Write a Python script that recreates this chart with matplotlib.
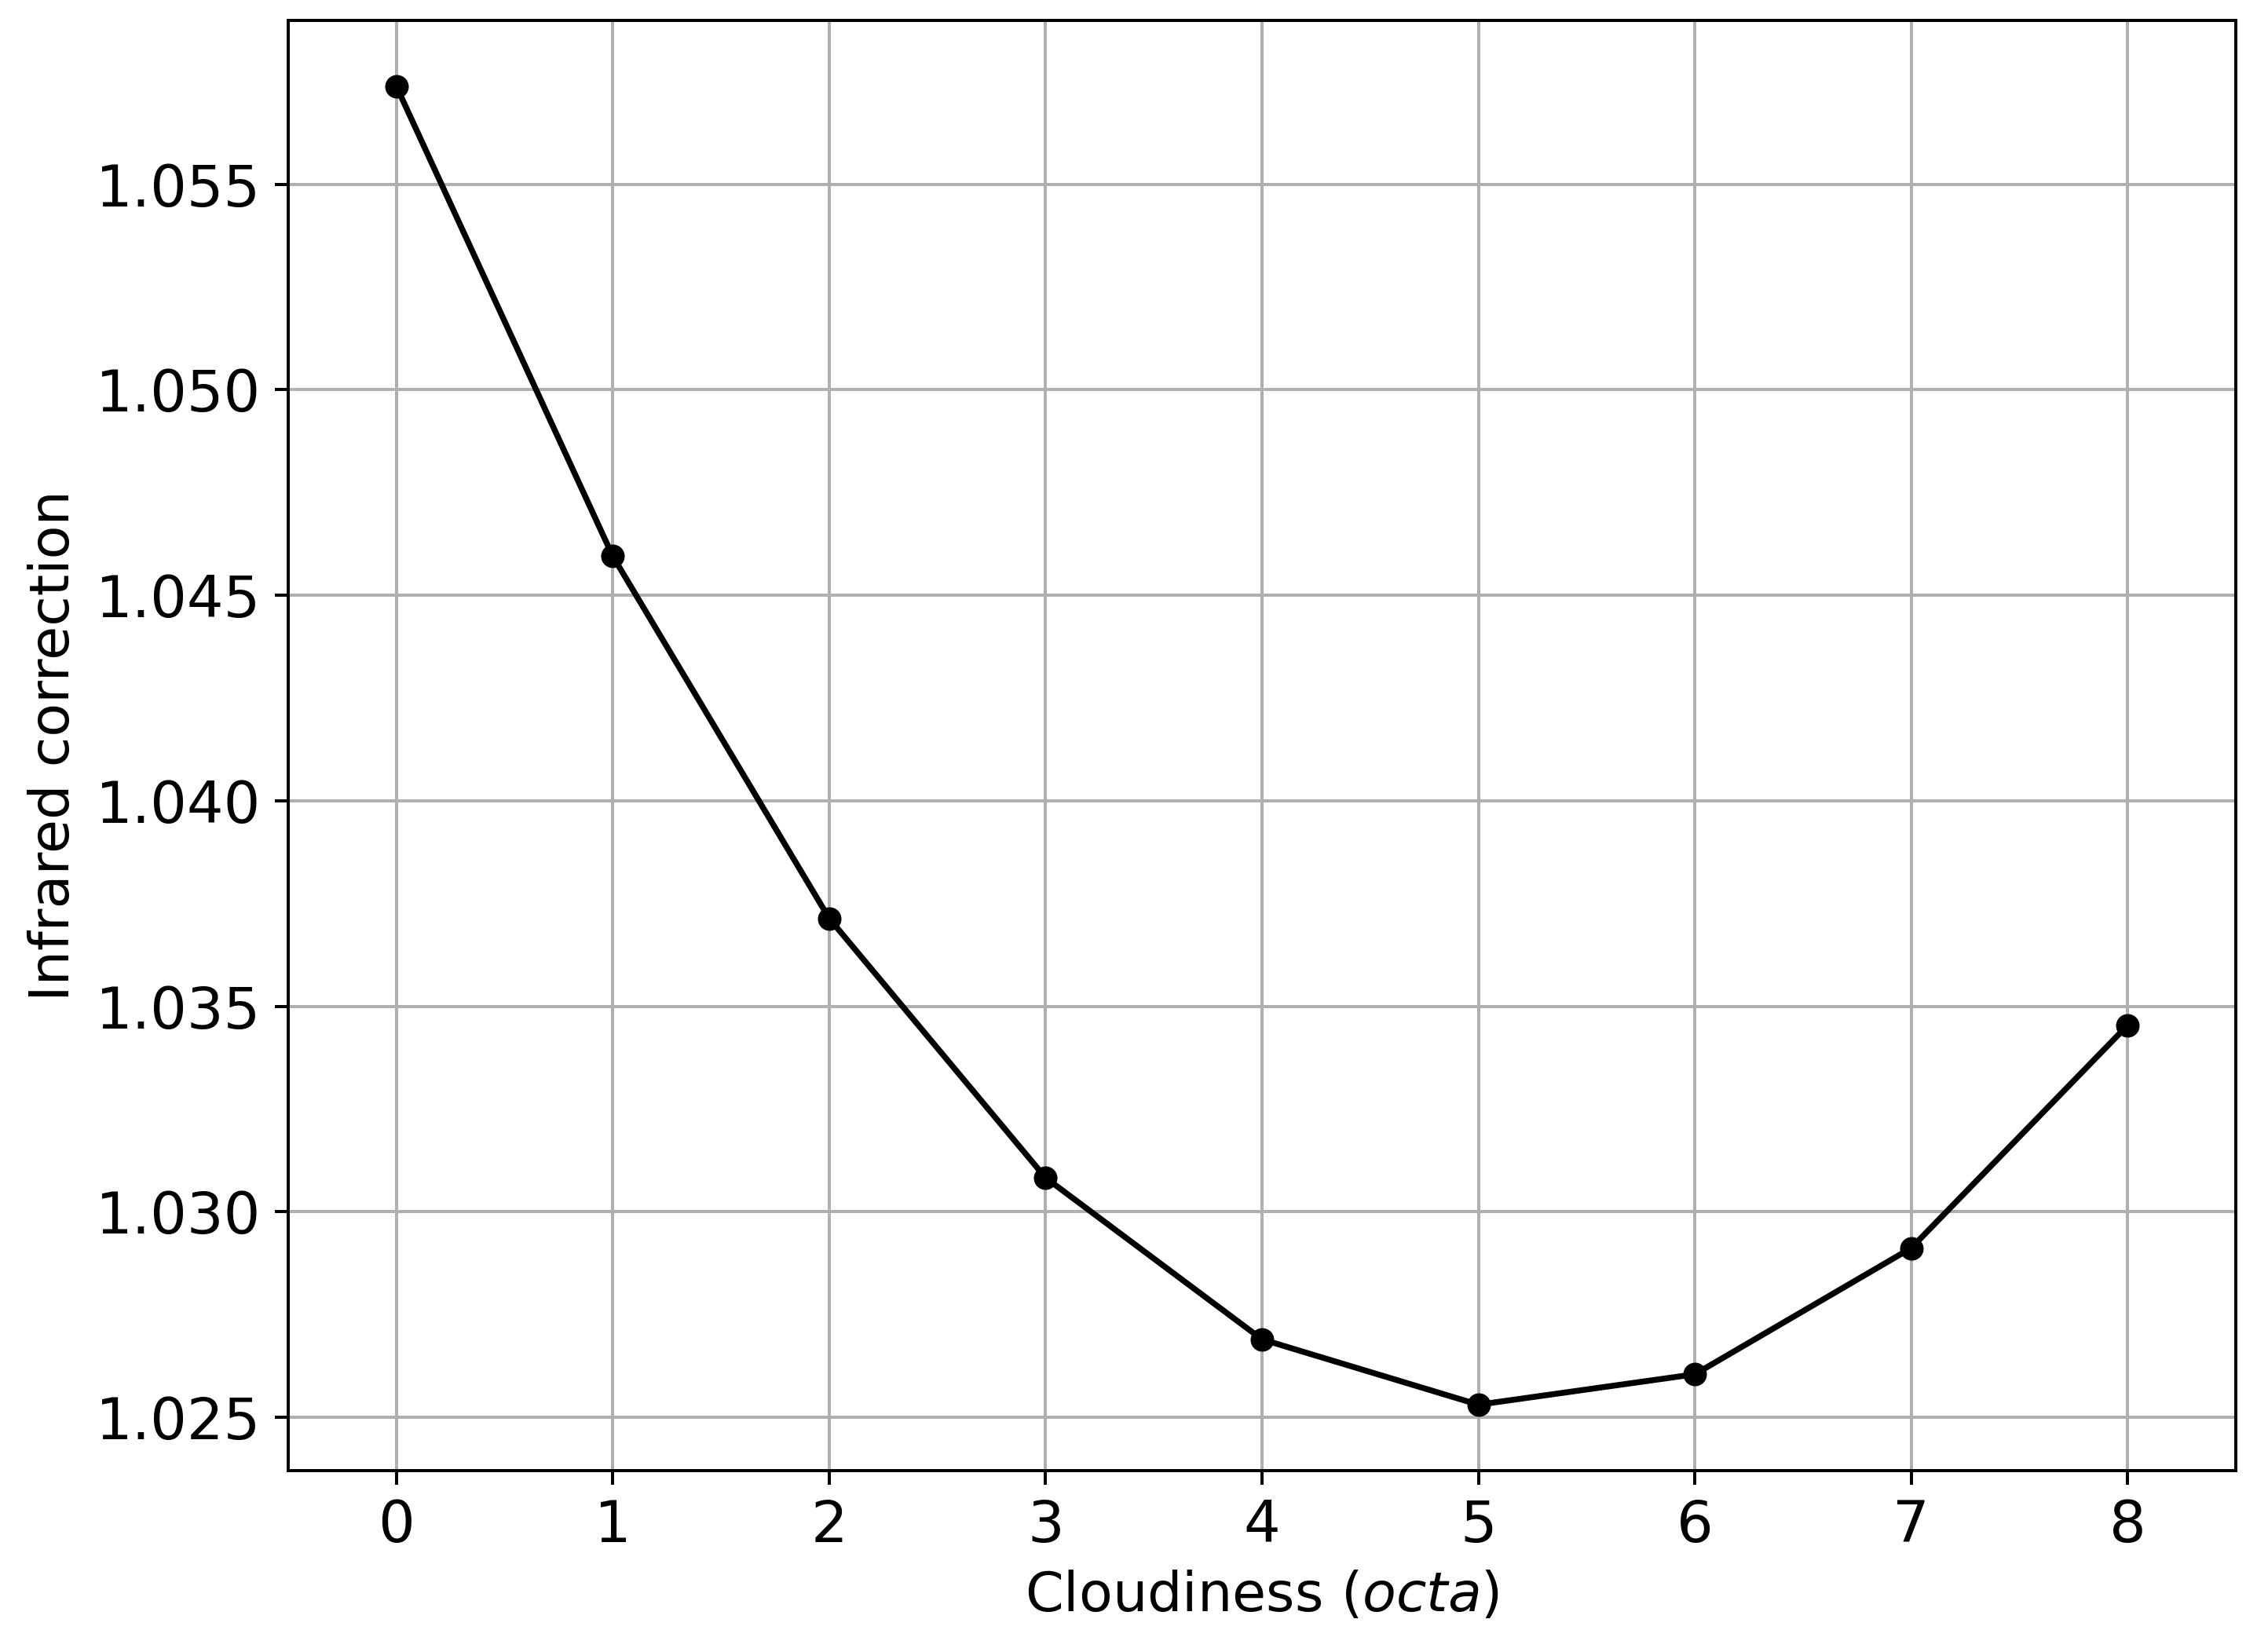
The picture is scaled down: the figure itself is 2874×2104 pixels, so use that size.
import matplotlib
matplotlib.use("Agg")
import matplotlib.pyplot as plt

# cloudiness in octa and the infrared correction
cloudiness = [0, 1, 2, 3, 4, 5, 6, 7, 8]
ir_correction = [1.05738, 1.04595, 1.03714, 1.03083, 1.02690, 1.02531, 1.02605, 1.02912, 1.03454]

plt.rcParams["font.size"] = 14
plt.rcParams["xtick.labelsize"] = 14.7
plt.rcParams["ytick.labelsize"] = 14.7

DPI = 360
fig = plt.figure(figsize=(2874 / DPI, 2104 / DPI), dpi=DPI)
ax = fig.add_subplot(111)
fig.subplots_adjust(left=0.1277, right=0.9906, top=0.9876, bottom=0.1098)

ax.plot(cloudiness, ir_correction, color="black", marker="o", markersize=5, linewidth=1.5)

ax.set_xticks(cloudiness)
ax.set_xlim(-0.5, 8.5)
ax.set_xlabel("Cloudiness ($\\it{octa}$)")
ax.set_ylabel("Infrared correction")
ax.grid(True)

fig.savefig("out.png", dpi=DPI)
